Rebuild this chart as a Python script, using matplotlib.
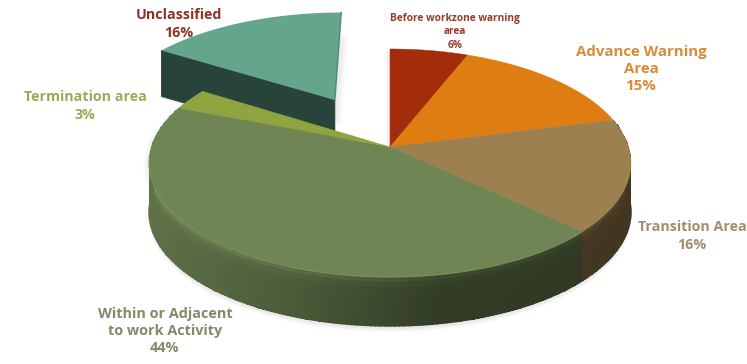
import numpy as np
import matplotlib
matplotlib.use('Agg')
import matplotlib.pyplot as plt
from matplotlib.colors import to_rgb

# data: clockwise from 12 o'clock
names = ['Before workzone warning\narea', 'Advance Warning\nArea', 'Transition Area',
         'Within or Adjacent\nto work Activity', 'Termination area', 'Unclassified']
values = [6, 15, 16, 44, 3, 16]
top_colors = ['#a32c0a', '#dd7d12', '#9c8050', '#6f8554', '#8fa43e', '#64a68c']
text_colors = ['#963b2c', '#db8a3a', '#a08d6c', '#7f8c68', '#99ab5a', '#8d3327']
label_x = [455, 641, 692, 165, 85, 179]
label_y = [32, 69, 236, 331, 106, 24]
label_size = [7.3, 10.8, 10.3, 10.4, 10.3, 10.3]

# picture geometry, in pixels
cx, cy = 390, 147
a, b, k = 111.8, 238.6, 0.1403
depth = 49
explode = [0, 0, 0, 0, 0, 0.51]


def project(x, y):
    # perspective: the far edge of the disc looks smaller
    w = 1 + k * y
    return cx + b * x / w, cy - a * y / w


def wedge(start, end, off):
    # outline of a slice in screen coordinates
    th = np.radians(np.linspace(start, end, max(int(end - start) * 2, 4)))
    mid = np.radians((start + end) / 2)
    ox, oy = off * np.sin(mid), off * np.cos(mid)
    xs = np.r_[ox, ox + np.sin(th)]
    ys = np.r_[oy, oy + np.cos(th)]
    return project(xs, ys)


def shade(color, f):
    return np.minimum(1, np.array(to_rgb(color)) * f)


fig = plt.figure(figsize=(7.47, 3.64), dpi=100)
ax = fig.add_axes([0, 0, 1, 1])
ax.set_xlim(0, 747)
ax.set_ylim(364, 0)
ax.axis('off')

plt.rcParams['font.family'] = ['Open Sans', 'DejaVu Sans']

edges = np.r_[0, np.cumsum(values)] * 3.6

# exploded slice goes at the back
i = len(values) - 1
px, py = wedge(edges[i], edges[i + 1], explode[i])
for s in range(1, 7):
    ax.fill(px - s, py + 46 + s * 0.3, color='k', alpha=0.012, lw=0, zorder=1)
    ax.fill(px + s + 1, py + s + 20, color='k', alpha=0.012, lw=0, zorder=1)
# only the cut face towards the viewer shows, the other radial edge is a thin line
ax.fill(np.r_[px[0], px[1], px[1], px[0]], np.r_[py[0], py[1], py[1] + 46, py[0] + 46],
        color='#28443a', lw=0.6, zorder=1.1)
ax.fill(px, py, color=top_colors[i], lw=0, zorder=1.2)
ax.plot(px[[0, -1]], py[[0, -1]], color='#4f8a74', lw=1, zorder=1.2)

# soft shadow of the main pie
sx, sy = wedge(edges[0], edges[-2], 0)
for s in range(1, 7):
    ax.fill(sx - s, sy + s * 0.5, color='k', alpha=0.012, lw=0, zorder=1.3)
    ax.fill(sx, sy + depth + s, color='k', alpha=0.02, lw=0, zorder=1.3)

# side of the main pie, darker towards the right
light_x = [150, 290, 440, 630]
light_f = [0.85, 0.68, 0.45, 0.42]
bands = np.linspace(0, 1, 11)
for i in range(len(values) - 1):
    ang = np.radians(np.linspace(edges[i], edges[i + 1], int(values[i] * 3.6) + 2))
    if np.cos(ang).min() > 0.2:
        continue
    qx, qy = project(np.sin(ang), np.cos(ang))
    mesh_x = np.tile(qx, (len(bands), 1))
    mesh_y = np.outer(bands * depth, np.ones(len(qx))) + qy
    f = np.interp((qx[:-1] + qx[1:]) / 2, light_x, light_f)
    cols = np.zeros((len(bands) - 1, len(qx) - 1, 3))
    for r in range(len(bands) - 1):
        for c in range(len(qx) - 1):
            cols[r, c] = shade(top_colors[i], f[c] * (1 + 0.22 * np.exp(-bands[r] * 9)))
    ax.pcolormesh(mesh_x, mesh_y, cols, shading='flat', edgecolors='none', zorder=2)
    # smooth the stepped lower edge
    for c in range(len(qx) - 1):
        ax.plot(qx[c:c + 2], qy[c:c + 2] + depth, color=shade(top_colors[i], f[c]), lw=0.9, zorder=2.1)

# top faces
for i in range(len(values) - 1):
    px, py = wedge(edges[i], edges[i + 1], explode[i])
    ax.fill(px, py, color=top_colors[i], lw=0.3, zorder=3)

# light rim on the front edge of the big slice
i = 3
ang = np.radians(np.linspace(edges[i], 265, 100))
rx, ry = project(np.sin(ang), np.cos(ang))
ax.plot(rx, ry, color=shade(top_colors[i], 1.15), lw=0.8, alpha=0.7, zorder=4)

# labels
for i in range(len(values)):
    ax.text(label_x[i], label_y[i], '%s\n%d%%' % (names[i], values[i]), color=text_colors[i],
            fontsize=label_size[i], fontweight='bold', ha='center', va='center',
            linespacing=1.3, zorder=5)

fig.savefig('out.png', dpi=100)
